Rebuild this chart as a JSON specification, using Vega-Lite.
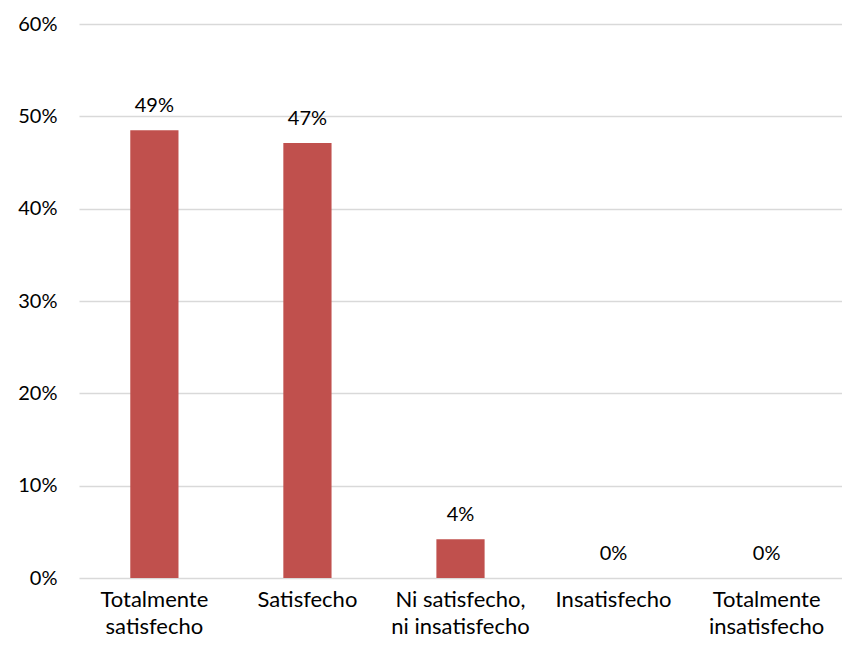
{
  "$schema": "https://vega.github.io/schema/vega-lite/v6.json",
  "width": 763,
  "height": 554,
  "autosize": {"type": "none"},
  "padding": {"left": 79, "top": 24, "right": 0, "bottom": 71},
  "background": "white",
  "config": {
    "view": {"stroke": null},
    "font": "Lato",
    "axis": {"labelFont": "Lato", "labelColor": "#000000", "labelFontSize": 20}
  },
  "data": {
    "values": [
      {"cat": "Totalmente satisfecho", "v": 0.485, "label": "49%"},
      {"cat": "Satisfecho", "v": 0.471, "label": "47%"},
      {"cat": "Ni satisfecho, ni insatisfecho", "v": 0.042, "label": "4%"},
      {"cat": "Insatisfecho", "v": 0.0, "label": "0%"},
      {"cat": "Totalmente insatisfecho", "v": 0.0, "label": "0%"}
    ]
  },
  "encoding": {
    "x": {
      "field": "cat",
      "type": "nominal",
      "sort": null,
      "title": null,
      "scale": {"paddingInner": 0.685, "paddingOuter": 0.335},
      "axis": {
        "labelAngle": 0,
        "domain": false,
        "ticks": false,
        "labelPadding": 11,
        "labelFontSize": 22,
        "labelLineHeight": 27,
        "labelExpr": "datum.value == 'Ni satisfecho, ni insatisfecho' ? ['Ni satisfecho,', 'ni insatisfecho'] : split(datum.value, ' ')"
      }
    },
    "y": {
      "field": "v",
      "type": "quantitative",
      "title": null,
      "scale": {"domain": [0, 0.6]},
      "axis": {
        "format": ".0%",
        "values": [0, 0.1, 0.2, 0.3, 0.4, 0.5, 0.6],
        "domain": false,
        "ticks": false,
        "labelPadding": 22,
        "gridColor": "#d9d9d9",
        "gridWidth": 1.3
      }
    }
  },
  "layer": [
    {"mark": {"type": "bar", "color": "#C0504D"}},
    {
      "mark": {"type": "text", "dy": -18, "baseline": "alphabetic", "fontSize": 20, "font": "Lato", "color": "#000000"},
      "encoding": {"text": {"field": "label"}}
    }
  ]
}
